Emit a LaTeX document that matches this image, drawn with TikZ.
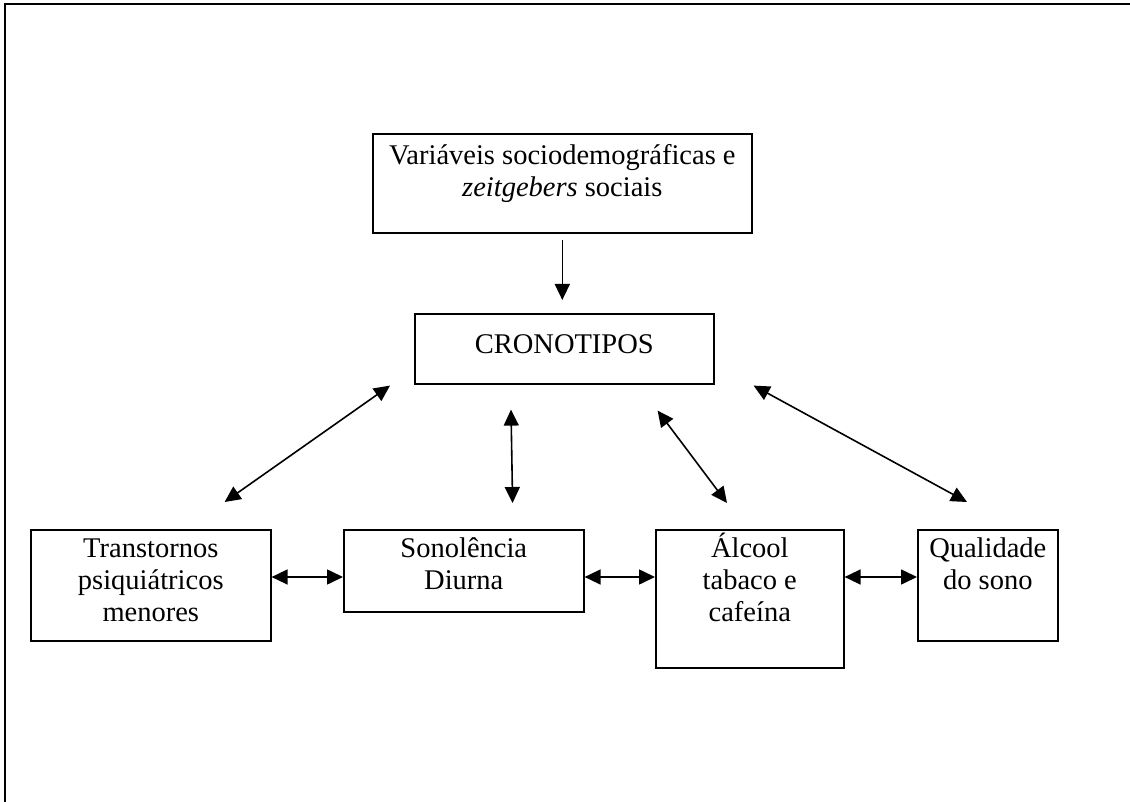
\documentclass[tikz,border=0pt]{standalone}
\usepackage{fontspec}
\setmainfont{Liberation Serif}
\usepackage{tikz}
\usetikzlibrary{arrows.meta}

\newcommand{\boxtext}[4][28pt]{\parbox[t][#3][t]{#2}{\centering\rule{0pt}{#1}#4}}

\begin{document}
\begin{tikzpicture}[x=1pt,y=-1pt,
    box/.style={draw, line width=1.6pt, inner sep=0pt, anchor=north west,
      font=\fontsize{28.5pt}{32pt}\selectfont},
    link/.style={{Triangle[length=16pt,width=15pt]}-{Triangle[length=16pt,width=15pt]}, line width=1.6pt},
    onelink/.style={-{Triangle[length=16pt,width=15pt]}, line width=1.6pt}]
  \useasboundingbox (0,0) rectangle (1130,802);

  % Frame
  \draw[line width=2.5pt] (5,802) -- (5,4) -- (1130,4);

  % Boxes
  \node[box] (social) at (372,133) {\boxtext[31pt]{379pt}{99pt}{Variáveis sociodemográficas e\\\textit{zeitgebers} sociais}};
  \node[box] (crono) at (414,313) {\boxtext[40pt]{299pt}{70pt}{CRONOTIPOS}};
  \node[box] (trans) at (30,529) {\boxtext{240pt}{111pt}{Transtornos\\psiquiátricos\\menores}};
  \node[box] (sono) at (343,529) {\boxtext{240pt}{82pt}{Sonolência\\Diurna}};
  \node[box] (alcool) at (655,529) {\boxtext{188pt}{138pt}{Álcool\\tabaco e\\cafeína}};
  \node[box] (qual) at (917,529) {\boxtext{140pt}{111pt}{Qualidade\\do sono}};

  % Arrows
  \draw[onelink] ([yshift=-6pt]social.south) -- ([yshift=13pt]social.south |- crono.north);
  \draw[link] ([xshift=-24pt,yshift=-1pt]crono.south west) -- ([xshift=-47pt,yshift=27pt]trans.north east);
  \draw[link] ([xshift=97pt,yshift=-25pt]crono.south west) -- ([xshift=-72pt,yshift=26pt]sono.north east);
  \draw[link] ([xshift=-57pt,yshift=-26pt]crono.south east) -- ([xshift=72pt,yshift=26pt]alcool.north west);
  \draw[link] ([xshift=39pt,yshift=-1pt]crono.south east) -- ([xshift=50pt,yshift=27pt]qual.north west);
  \draw[link] ([yshift=-48pt]trans.north east) -- ([yshift=-48pt]sono.north west);
  \draw[link] ([yshift=-48pt]sono.north east) -- ([yshift=-48pt]alcool.north west);
  \draw[link] ([yshift=-48pt]alcool.north east) -- ([yshift=-48pt]qual.north west);
\end{tikzpicture}
\end{document}
